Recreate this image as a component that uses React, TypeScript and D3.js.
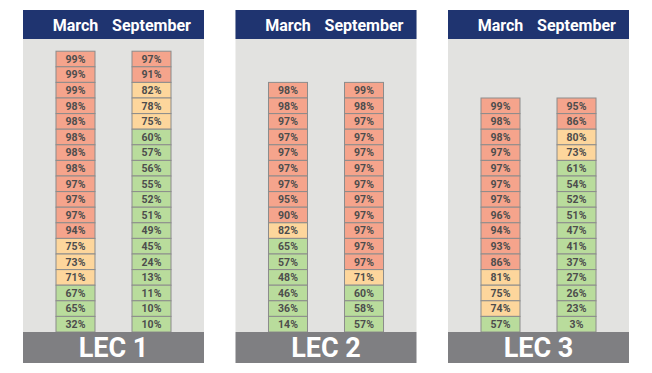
import { useEffect, useRef } from 'react';
import * as d3 from 'd3';

const panels = ['LEC 1', 'LEC 2', 'LEC 3'];
const months = ['March', 'September'];

const lec1March = [99, 99, 99, 98, 98, 98, 98, 98, 97, 97, 97, 94, 75, 73, 71, 67, 65, 32];
const lec1Sept = [97, 91, 82, 78, 75, 60, 57, 56, 55, 52, 51, 49, 45, 24, 13, 11, 10, 10];
const lec2March = [98, 98, 97, 97, 97, 97, 97, 95, 90, 82, 65, 57, 48, 46, 36, 14];
const lec2Sept = [99, 98, 97, 97, 97, 97, 97, 97, 97, 97, 97, 97, 71, 60, 58, 57];
const lec3March = [99, 98, 98, 97, 97, 97, 97, 96, 94, 93, 86, 81, 75, 74, 57];
const lec3Sept = [95, 86, 80, 73, 61, 54, 52, 51, 47, 41, 37, 27, 26, 23, 3];

const series = [
  [lec1March, lec1Sept],
  [lec2March, lec2Sept],
  [lec3March, lec3Sept],
];

const W = 652;
const H = 373;

export default function App() {
  const svgRef = useRef<SVGSVGElement>(null);

  useEffect(() => {
    if (!svgRef.current) return;
    const svg = d3.select(svgRef.current);
    svg.selectAll('*').remove();

    const panelW = 181;
    const top = 10;
    const headH = 29;
    const bottom = 332; // top of footer
    const footH = 31;
    const rowH = 15.6;

    // panel positions
    const px = d3.scalePoint<string>().domain(panels).range([23, 448]);
    // column positions inside a panel
    const cx = d3.scaleBand<string>().domain(months).range([0, panelW]).paddingInner(0.487).paddingOuter(0.434);

    const color = d3.scaleThreshold<number, string>()
      .domain([70, 85])
      .range(['#b9dc9c', '#fdd69c', '#f5a48c']);

    panels.forEach((name, p) => {
      const g = svg.append('g').attr('transform', `translate(${px(name)},0)`);

      // background
      g.append('rect')
        .attr('x', 0).attr('y', top)
        .attr('width', panelW).attr('height', bottom - top)
        .attr('fill', '#e2e2e0');

      // header
      g.append('rect')
        .attr('x', 0).attr('y', top)
        .attr('width', panelW).attr('height', headH)
        .attr('fill', '#1f3470');

      months.forEach((m, mi) => {
        g.append('text')
          .attr('x', (cx(m) || 0) + cx.bandwidth() / 2)
          .attr('y', top + headH / 2 + 1)
          .attr('dy', '0.35em')
          .attr('text-anchor', 'middle')
          .attr('font-family', 'Roboto, sans-serif')
          .attr('font-weight', 'bold')
          .attr('font-size', 16)
          .attr('fill', '#ffffff')
          .text(m);

        const vals = series[p][mi];
        const n = vals.length;
        const y = d3.scaleBand<number>()
          .domain(d3.range(n))
          .range([bottom - n * rowH, bottom]);

        const cells = g.selectAll(`.cell-${mi}`)
          .data(vals)
          .enter().append('g')
          .attr('class', `cell-${mi}`);

        cells.append('rect')
          .attr('x', cx(m) || 0)
          .attr('y', (_d, i) => y(i) || 0)
          .attr('width', cx.bandwidth())
          .attr('height', y.bandwidth())
          .attr('fill', d => color(d))
          .attr('stroke', '#8c8c8c')
          .attr('stroke-width', 1);

        cells.append('text')
          .attr('x', (cx(m) || 0) + cx.bandwidth() / 2)
          .attr('y', (_d, i) => (y(i) || 0) + y.bandwidth() / 2)
          .attr('dy', '0.36em')
          .attr('text-anchor', 'middle')
          .attr('font-family', 'Roboto, sans-serif')
          .attr('font-weight', 'bold')
          .attr('font-size', 10.5)
          .attr('fill', '#4d4d4d')
          .text(d => `${d}%`);
      });

      // footer
      g.append('rect')
        .attr('x', 0).attr('y', bottom)
        .attr('width', panelW).attr('height', footH)
        .attr('fill', '#7f7f82');

      g.append('text')
        .attr('x', panelW / 2)
        .attr('y', bottom + footH / 2)
        .attr('dy', '0.36em')
        .attr('text-anchor', 'middle')
        .attr('font-family', 'Roboto, sans-serif')
        .attr('font-weight', 'bold')
        .attr('font-size', 27)
        .attr('fill', '#ffffff')
        .text(name);
    });
  }, []);

  return (
    <svg
      ref={svgRef}
      width={W}
      height={H}
      style={{ position: 'absolute', left: 0, top: 0, background: '#ffffff' }}
    />
  );
}
